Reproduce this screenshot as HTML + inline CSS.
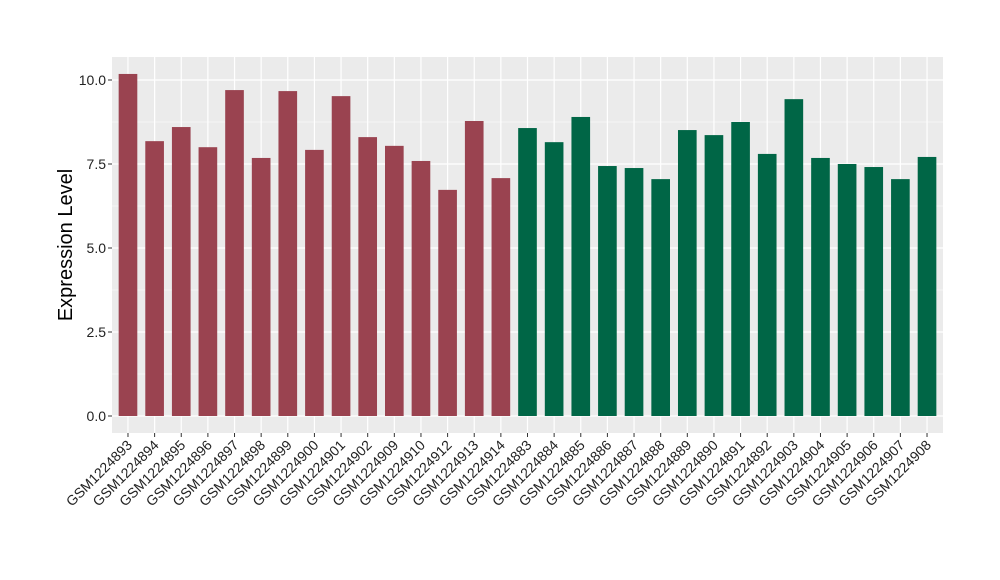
<!DOCTYPE html>
<html><head><meta charset="utf-8"><style>
body{margin:0;background:#fff;}
svg{display:block;font-family:"Liberation Sans",sans-serif;}
</style></head><body>
<svg id="chart" width="1000" height="580">
<rect x="112" y="57" width="831" height="376" fill="#EBEBEB"/>
<g id="grid"></g><g id="bars"></g><g id="yaxis"></g><g id="xaxis"></g>
<text x="72" y="245" font-size="20" text-anchor="middle" transform="rotate(-90 72 245)" fill="#000">Expression Level</text>
</svg>
<script>
const categories=["GSM1224893","GSM1224894","GSM1224895","GSM1224896","GSM1224897","GSM1224898","GSM1224899","GSM1224900","GSM1224901","GSM1224902","GSM1224909","GSM1224910","GSM1224912","GSM1224913","GSM1224914","GSM1224883","GSM1224884","GSM1224885","GSM1224886","GSM1224887","GSM1224888","GSM1224889","GSM1224890","GSM1224891","GSM1224892","GSM1224903","GSM1224904","GSM1224905","GSM1224906","GSM1224907","GSM1224908"];
const values=[10.18,8.18,8.6,8.0,9.7,7.68,9.67,7.92,9.52,8.3,8.04,7.59,6.73,8.78,7.08,8.57,8.15,8.9,7.44,7.38,7.05,8.51,8.36,8.75,7.8,9.43,7.68,7.5,7.41,7.05,7.71];
const groups=["a","a","a","a","a","a","a","a","a","a","a","a","a","a","a","b","b","b","b","b","b","b","b","b","b","b","b","b","b","b","b"];
const yTicks=[0,2.5,5,7.5,10];
const yTickLabels=["0.0","2.5","5.0","7.5","10.0"];
const NS="http://www.w3.org/2000/svg";
const L=112,R=943,T=57,B=433;
const n=categories.length;
const step=(R-L)/(n-1+1.2);
const x=i=>L+step*(0.6+i);
const y=v=>416-v*33.6;
const colors={a:"#9A4350",b:"#006646"};
function mk(tag,attrs,parent){const e=document.createElementNS(NS,tag);for(const k in attrs)e.setAttribute(k,attrs[k]);document.getElementById(parent).appendChild(e);return e;}
// grid
for(let k=0;k<yTicks.length-1;k++){
  const v=(yTicks[k]+yTicks[k+1])/2;
  const g=mk("line",{x1:L,x2:R,y1:y(v),y2:y(v),stroke:"#fff","stroke-width":0.6},"grid");
  
  
}
yTicks.forEach((v,k)=>{
  const g=mk("line",{x1:L,x2:R,y1:y(v),y2:y(v),stroke:"#fff","stroke-width":1.2},"grid");
  
  
  const t=mk("line",{x1:L-4,x2:L,y1:y(v),y2:y(v),stroke:"#333","stroke-width":1},"yaxis");
  
  
  const lb=mk("text",{x:L-6,y:y(v)+5,"font-size":14,"text-anchor":"end",fill:"#222"},"yaxis");
  lb.textContent=yTickLabels[k];
  
  
});
categories.forEach((c,i)=>{
  const g=mk("line",{x1:x(i),x2:x(i),y1:T,y2:B,stroke:"#fff","stroke-width":1.2},"grid");
  
  
  const w=step*0.7;
  const b=mk("rect",{x:x(i)-w/2,y:y(values[i]),width:w,height:y(0)-y(values[i]),fill:colors[groups[i]]},"bars");
  
  
  const t=mk("line",{x1:x(i),x2:x(i),y1:B,y2:B+4,stroke:"#333","stroke-width":1},"xaxis");
  
  
  const lb=mk("text",{x:x(i)+5,y:B+13,"font-size":14,"text-anchor":"end",fill:"#222",transform:`rotate(-45 ${x(i)+5} ${B+13})`},"xaxis");
  lb.textContent=c;
  
  
});
</script>
</body></html>
